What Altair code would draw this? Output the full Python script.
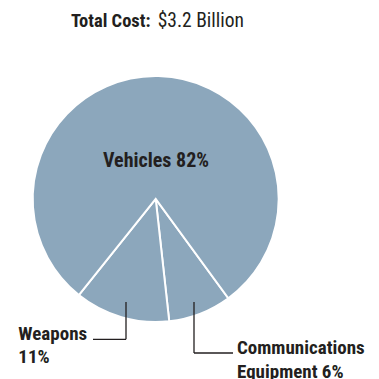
import altair as alt
import pandas as pd
import math

# Slice data (angles), labels from the picture
categories = ["Communications Equipment", "Weapons", "Vehicles"]
shares = [8.3, 12.5, 79.2]
order_idx = [0, 1, 2]

W, H = 363, 371
FONT = "Liberation Sans Narrow, Roboto Condensed, DejaVu Sans Condensed, sans-serif"
INK = "#231f20"
PIE = "#8ca7bc"

start = math.radians(143.8)

pie_df = pd.DataFrame({"cat": categories, "share": shares, "idx": order_idx})

pie = alt.Chart(pie_df).mark_arc(
    radius=123, stroke="white", strokeWidth=2, color=PIE
).encode(
    theta=alt.Theta("share:Q", stack=True,
                    scale=alt.Scale(range=[start, start + 2 * math.pi])),
    order=alt.Order("idx:Q"),
    x=alt.value(147.7),
    y=alt.value(191),
)

xs = alt.Scale(domain=[0, W], range=[0, W])
ys = alt.Scale(domain=[0, H], range=[0, H])

# text annotations
txt_text = ["Total Cost:", "$3.2 Billion", "Vehicles 82%", "Weapons", "11%",
            "Communications", "Equipment 6%"]
txt_x = [142.5, 149.7, 148, 10.3, 10.3, 229, 229]
txt_y = [18.7, 18.7, 159.3, 332, 355.3, 346, 369.5]
txt_align = ["right", "left", "center", "left", "left", "left", "left"]
txt_weight = ["bold", "normal", "bold", "bold", "bold", "bold", "bold"]
txt_size = [18.5, 19.5, 20, 19, 19, 19, 19]

tdf = pd.DataFrame({"t": txt_text, "x": txt_x, "y": txt_y, "a": txt_align,
                    "w": txt_weight, "s": txt_size})

layers = []
for a in ["left", "right", "center"]:
    for w in ["bold", "normal"]:
        for s in sorted(set(txt_size)):
            sub = tdf[(tdf.a == a) & (tdf.w == w) & (tdf.s == s)]
            if len(sub) == 0:
                continue
            layers.append(
                alt.Chart(sub).mark_text(
                    align=a, baseline="alphabetic", font=FONT, fontSize=s,
                    fontWeight=w, color=INK
                ).encode(
                    x=alt.X("x:Q", scale=xs, axis=None),
                    y=alt.Y("y:Q", scale=ys, axis=None),
                    text="t:N",
                )
            )

# leader lines
seg_x = [85, 118, 186, 186]
seg_x2 = [118, 118, 225, 186]
seg_y = [331.3, 294, 345, 294]
seg_y2 = [331.3, 331.3, 345, 345]
sdf = pd.DataFrame({"x": seg_x, "x2": seg_x2, "y": seg_y, "y2": seg_y2})
rules = alt.Chart(sdf).mark_rule(color=INK, strokeWidth=1.3).encode(
    x=alt.X("x:Q", scale=xs, axis=None), x2="x2:Q",
    y=alt.Y("y:Q", scale=ys, axis=None), y2="y2:Q",
)

chart = alt.layer(pie, rules, *layers).properties(
    width=W, height=H, padding=0,
    autosize=alt.AutoSizeParams(type="none"),
).configure_view(stroke=None).resolve_scale(theta="independent")

chart.save("out.html", embed_options={"renderer": "svg", "actions": False})
